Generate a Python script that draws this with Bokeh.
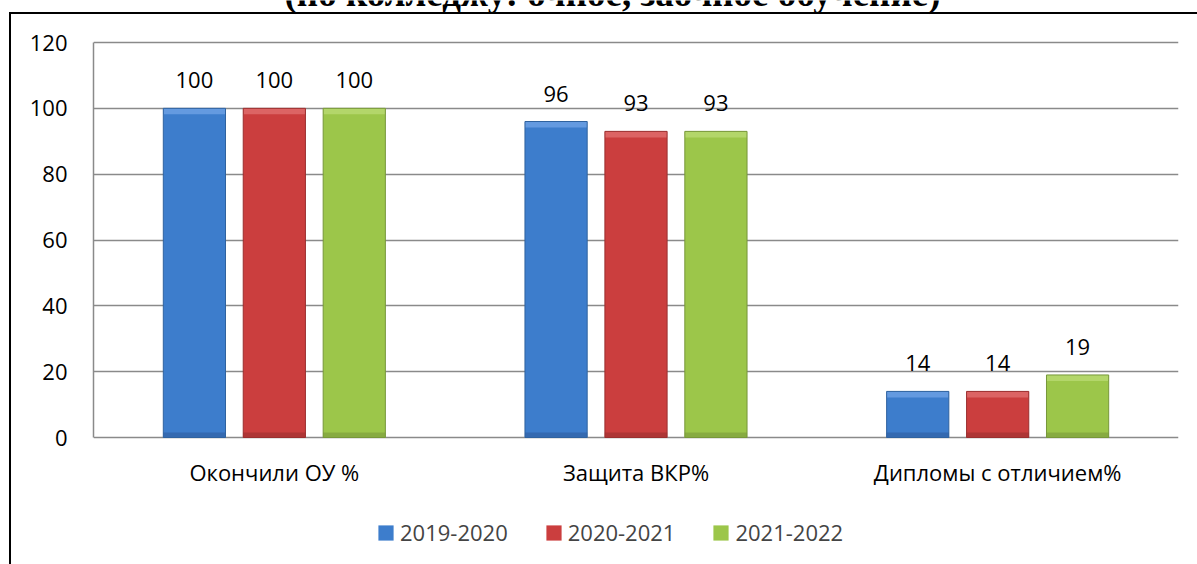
from bokeh.plotting import figure
from bokeh.models import (ColumnDataSource, FactorRange, Range1d, Legend, LegendItem,
                          Label, FixedTicker)
from bokeh.transform import dodge
from bokeh.core.properties import value
from bokeh.embed import file_html
from bokeh.resources import INLINE

title_text = "(по колледжу: очное, заочное обучение)"
categories = ["Окончили ОУ %", "Защита ВКР%", "Дипломы с отличием%"]
series_names = ["2019-2020", "2020-2021", "2021-2022"]
v2019 = [100, 96, 14]
v2020 = [100, 93, 14]
v2021 = [100, 93, 19]
y_ticks = [0, 20, 40, 60, 80, 100, 120]

series_values = [v2019, v2020, v2021]
fills = ["#3D7DCC", "#CB3E3E", "#9CC64A"]
tops = ["#649AE0", "#DC6464", "#B3D66A"]
shades = ["#3469B0", "#AE3535", "#87AB41"]
edges = ["#2F629F", "#9A2F2F", "#77973A"]
offsets = [-0.221, 0.0, 0.221]
BAR_W = 0.172

FONT = "Open Sans"

# geometry (pixels)
W, H = 1197, 564
FRAME_LEFT, FRAME_RIGHT = 93, 1178
Y_TOP_PX, Y_ZERO_PX = 42, 437           # pixel rows of 120 and 0
YMAX = 120
PX = (Y_ZERO_PX - Y_TOP_PX) / YMAX      # pixels per unit
y_end = YMAX + Y_TOP_PX / PX
y_start = -(H - Y_ZERO_PX) / PX
TOP_BAND = 6 / PX                       # bevel highlight height
BOTTOM_BAND = 5 / PX                    # bevel shade height

p = figure(width=W, height=H, x_range=FactorRange(*categories, range_padding=0),
           y_range=Range1d(y_start, y_end), output_backend="svg", toolbar_location=None,
           x_axis_location=None,
           min_border_left=FRAME_LEFT, min_border_right=W - FRAME_RIGHT,
           min_border_top=0, min_border_bottom=0,
           styles={"background": ("linear-gradient(#000,#000) 9px 12px / 2px 1000px no-repeat, "
                                  "linear-gradient(#000,#000) 9px 12px / 2000px 2px no-repeat, "
                                  "#ffffff")})
p.outline_line_color = None
p.background_fill_color = None
p.border_fill_color = None

p.xgrid.grid_line_color = None
p.ygrid.grid_line_color = "#8a8a8a"
p.ygrid.grid_line_width = 1.5
p.ygrid.ticker = FixedTicker(ticks=y_ticks)

renderers = []
for name, vals, fc, tc, sc, ec, off in zip(series_names, series_values, fills, tops,
                                           shades, edges, offsets):
    src = ColumnDataSource(dict(cat=categories, val=vals, lbl=[str(v) for v in vals],
                                band=[v - TOP_BAND for v in vals],
                                shade=[BOTTOM_BAND] * len(vals)))
    xd = dodge("cat", off, range=p.x_range)
    r = p.vbar(x=xd, top="val", width=BAR_W, bottom=0, source=src,
               fill_color=fc, line_color=None)
    p.vbar(x=xd, top="val", bottom="band", width=BAR_W, source=src,
           fill_color=tc, line_color=None)
    p.vbar(x=xd, top="shade", bottom=0, width=BAR_W, source=src,
           fill_color=sc, line_color=None)
    p.vbar(x=xd, top="val", width=BAR_W, bottom=0, source=src,
           fill_color=None, line_color=ec, line_width=1)
    renderers.append((name, r))
    p.text(x=xd, y="val", text="lbl", source=src,
           text_align="center", text_baseline="alphabetic", y_offset=-28,
           text_font=value(FONT), text_font_size="22px", text_color="black")

# category labels under the zero line
cat_src = ColumnDataSource(dict(cat=categories, base=[0] * len(categories)))
p.text(x="cat", y="base", text="cat", source=cat_src, text_align="center",
       text_baseline="alphabetic", y_offset=34,
       text_font=value(FONT), text_font_size="22px", text_color="black")

p.yaxis.ticker = FixedTicker(ticks=y_ticks)
p.yaxis.bounds = (0, YMAX)
p.yaxis.axis_line_color = "#8a8a8a"
p.yaxis.axis_line_width = 1.5
p.yaxis.major_tick_line_color = None
p.yaxis.minor_tick_line_color = None
p.yaxis.major_tick_in = 0
p.yaxis.major_tick_out = 0
p.yaxis.major_label_text_font = FONT
p.yaxis.major_label_text_font_size = "22px"
p.yaxis.major_label_text_color = "black"
p.yaxis.major_label_standoff = 26

legend = Legend(items=[LegendItem(label=n, renderers=[r]) for n, r in renderers],
                orientation="horizontal", location=(376 - FRAME_LEFT, 17),
                glyph_width=19, glyph_height=19, label_standoff=5, spacing=36,
                padding=0, margin=0, border_line_color=None, background_fill_alpha=0,
                label_text_font=FONT, label_text_font_size="22px",
                label_text_baseline="middle")
p.add_layout(legend)

title = Label(x=612, y=-7, x_units="canvas", y_units="canvas", text=title_text,
              text_align="center", text_baseline="alphabetic",
              text_font="Liberation Serif", text_font_style="bold",
              text_font_size="37px", text_color="black")
p.add_layout(title)

open("out.html", "w").write(file_html(p, INLINE))
